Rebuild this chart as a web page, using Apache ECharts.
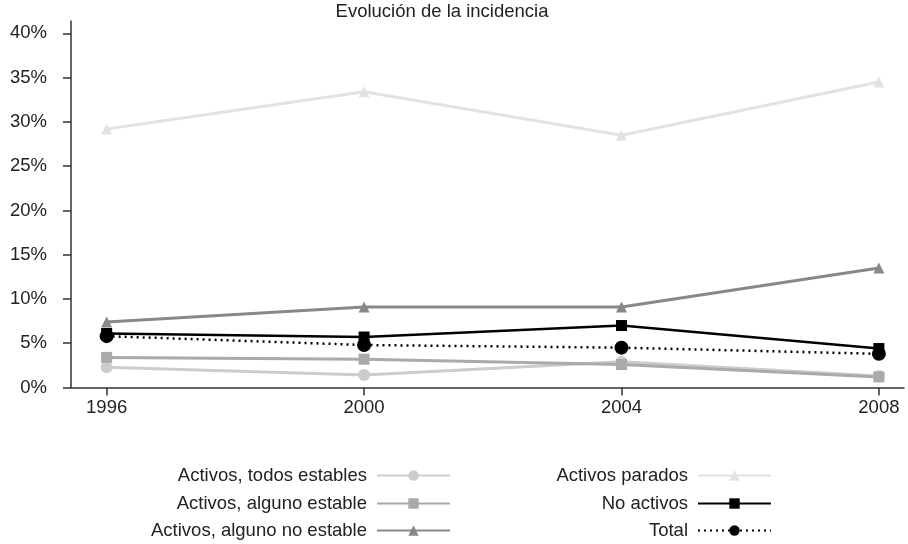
<!DOCTYPE html>
<html><head><meta charset="utf-8">
<script src="https://cdn.jsdelivr.net/npm/echarts@6/dist/echarts.min.js"></script>
<style>html,body{margin:0;padding:0;background:#fff}#c{width:908px;height:544px}</style>
</head><body><div id="c"></div>
<script>
const years = [1996, 2000, 2004, 2008];
const yTicks = [0, 5, 10, 15, 20, 25, 30, 35, 40];
const todosEstables = [2.3, 1.4, 2.9, 1.3];
const algunoEstable = [3.4, 3.2, 2.6, 1.2];
const algunoNoEstable = [7.4, 9.1, 9.1, 13.5];
const parados = [29.2, 33.4, 28.5, 34.5];
const noActivos = [6.1, 5.7, 7.0, 4.4];
const total = [5.8, 4.8, 4.5, 3.8];
const names = ['Activos, todos estables', 'Activos, alguno estable', 'Activos, alguno no estable', 'Activos parados', 'No activos', 'Total'];

const pairs = arr => years.map((y, i) => [y, arr[i]]);
const font = 'Liberation Sans, Arial, sans-serif';
const fs = 18.5;

function mk(name, data, color, symbol, size, width, type) {
  return {
    name, type: 'line', data: pairs(data), symbol, symbolSize: size,
    itemStyle: { color }, lineStyle: { color, width, type: type || 'solid' },
    emphasis: { disabled: true }, animation: false
  };
}
const series = [
  mk(names[0], todosEstables, '#cccccc', 'circle', 12, 3),
  mk(names[1], algunoEstable, '#aaaaaa', 'rect', 11, 3),
  mk(names[2], algunoNoEstable, '#888888', 'triangle', 11, 3),
  mk(names[3], parados, '#e2e2e2', 'triangle', 11, 3),
  mk(names[4], noActivos, '#000000', 'rect', 11, 2.5),
  mk(names[5], total, '#000000', 'circle', 14, 2.5, [2, 4])
];

function leg(name, right, top) {
  return {
    data: [name], right, top, align: 'right', itemWidth: 73, itemHeight: 13, itemGap: 0,
    padding: 0, selectedMode: false,
    textStyle: { fontFamily: font, fontSize: fs, color: '#222', padding: [0, 5, 0, 0] }
  };
}

const chart = echarts.init(document.getElementById('c'), null, { renderer: 'canvas' });
chart.setOption({
  animation: false,
  title: { text: 'Evolución de la incidencia', left: 442, textAlign: 'center', top: 2, padding: 0,
    textStyle: { fontFamily: font, fontSize: fs, fontWeight: 'normal', color: '#222' } },
  grid: { left: 71, right: 4, top: 21, bottom: 156.5, containLabel: false },
  xAxis: {
    type: 'value', min: 1995.446, max: 2008.39,
    splitLine: { show: false },
    axisLine: { lineStyle: { color: '#333', width: 1.5 } },
    axisTick: { customValues: years, length: 8, lineStyle: { color: '#333', width: 1.5 } },
    axisLabel: { customValues: years, margin: 11, fontFamily: font, fontSize: fs, color: '#222', formatter: v => String(v) }
  },
  yAxis: {
    type: 'value', min: 0, max: 41.4,
    splitLine: { show: false },
    axisLine: { show: true, lineStyle: { color: '#333', width: 1.5 } },
    axisTick: { show: true, customValues: yTicks, length: 8, lineStyle: { color: '#333', width: 1.5 } },
    axisLabel: { customValues: yTicks, margin: 24, fontFamily: font, fontSize: fs, color: '#222', formatter: v => v + '%' }
  },
  legend: [
    leg(names[0], 457, 466),
    leg(names[1], 457, 494),
    leg(names[2], 457, 521),
    leg(names[3], 136, 466),
    leg(names[4], 136, 494),
    leg(names[5], 136, 521)
  ],
  series
});
</script></body></html>
